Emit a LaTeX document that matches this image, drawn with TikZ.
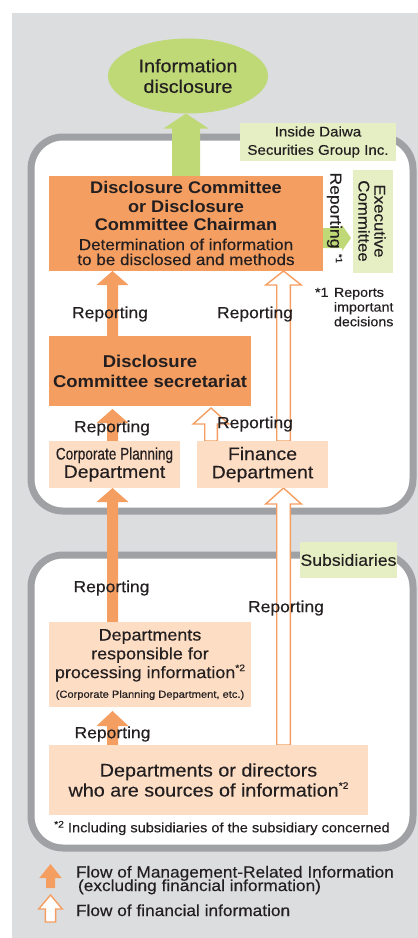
\documentclass[tikz,border=0pt]{standalone}
\usepackage{fontspec}
\setmainfont{Liberation Sans}[FakeStretch=1.08, UprightFeatures={FakeBold=0.3}]
\newfontfamily\narrowfont{Liberation Sans}[FakeStretch=0.81, UprightFeatures={FakeBold=0.3}]
\usetikzlibrary{shapes.geometric,calc}

\definecolor{bggray}{HTML}{DCDDDF}
\definecolor{framegray}{HTML}{A0A1A5}
\definecolor{orangeD}{HTML}{F59E62}
\definecolor{orangeL}{HTML}{FDDDC4}
\definecolor{greenE}{HTML}{BFD977}
\definecolor{greenL}{HTML}{E6EFC4}
\definecolor{ink}{HTML}{231F20}

\newcommand\fsz[2]{\fontsize{#1}{#2}\selectfont}
\newcommand\supnote[1]{\raisebox{0.42em}{\fontsize{9.5}{9.5}\selectfont #1}}

% vertical block arrow pointing up: style, tail point, tip point,
% shaft half width, head half width, head length
\newcommand\uparr[6]{%
  \path[#1] let \p1=(#2), \p2=(#3) in
    (\x2,\y2) -- (\x2+#5pt,\y2-#6pt) -- (\x2+#4pt,\y2-#6pt) -- (\x2+#4pt,\y1)
    -- (\x2-#4pt,\y1) -- (\x2-#4pt,\y2-#6pt) -- (\x2-#5pt,\y2-#6pt) -- cycle;}

\pgfdeclarelayer{back}
\pgfdeclarelayer{flow}
\pgfsetlayers{back,flow,main}

\tikzset{
  every node/.style={text=ink, inner sep=0pt, outer sep=0pt},
  groupframe/.style={draw=framegray, line width=7pt, fill=white, rounded corners=32pt},
  darkbox/.style={fill=orangeD, align=center},
  lightbox/.style={fill=orangeL, align=center},
  greenlabel/.style={fill=greenL, align=center},
  reptext/.style={font=\fsz{16.2}{18}},
  solidarr/.style={fill=orangeD},
  hollowarr/.style={fill=white, draw=orangeD, line width=1.4pt, line join=miter},
  greenarr/.style={fill=greenE},
}

\begin{document}
\begin{tikzpicture}[x=1pt,y=-1pt]
\useasboundingbox (0,0) rectangle (418,938);

% backdrop and the two grouping frames
\begin{pgfonlayer}{back}
  \fill[bggray] (12,13) rectangle (418,938);
  \node[groupframe, minimum width=382, minimum height=374] (grpDaiwa) at (222,324) {};
  \node[groupframe, minimum width=382, minimum height=293] (grpSubs) at (222,701.5) {};
\end{pgfonlayer}

% top: disclosure ellipse
\node[ellipse, fill=greenE, minimum width=160, minimum height=75, align=center,
      font=\fsz{18.3}{20.6}] (disc) at (188,76) {Information\\disclosure};

% group labels
\node[greenlabel, minimum width=156, minimum height=38, font=\fsz{14}{18.3}]
  (lblDaiwa) at (318,142) {Inside Daiwa\\Securities Group Inc.};
\node[greenlabel, minimum width=97, minimum height=36, font=\fsz{16.3}{18}]
  (lblSubs) at (348.5,560) {Subsidiaries};

% committee and executive committee
\node[darkbox, minimum width=274, minimum height=95, font=\fsz{16.8}{18.4}\bfseries]
  (dc) at (186,223.5)
  {Disclosure Committee\\or Disclosure\\Committee Chairman\\[0.9pt]
   {\mdseries\fsz{15.8}{15}Determination of information}\\[-3.4pt]
   {\mdseries\fsz{15.8}{15}to be disclosed and methods}};
\node[greenlabel, minimum width=40, minimum height=103] (exec) at (373,221.5) {};
\node[rotate=-90, align=center, font=\fsz{15.6}{16}] (execText) at (372,221) {Executive\\Committee};

% departments inside the group
\node[darkbox, minimum width=202, minimum height=70, font=\fsz{17.1}{20}\bfseries]
  (secr) at (150,371) {Disclosure\\Committee secretariat};
\node[lightbox, minimum width=131, minimum height=47, font=\fsz{18}{18.3}]
  (cpd) at (114.5,464.5) {{\narrowfont\fsz{16.8}{18.3}Corporate Planning}\\Department};
\node[lightbox, minimum width=131, minimum height=47, font=\fsz{18}{18.3}]
  (fin) at (262.5,464.5) {Finance\\Department};

% subsidiaries
\node[lightbox, minimum width=202, minimum height=85, font=\fsz{16.6}{18.8}]
  (resp) at (150,664.5)
  {Departments\\responsible for\\processing information\supnote{*2}\\[0.9pt]
   {\fsz{10.3}{12}(Corporate Planning Department, etc.)}};
\node[lightbox, minimum width=319, minimum height=70, font=\fsz{18.3}{20}]
  (src) at (208.5,780)
  {Departments or directors\\who are sources of information\supnote{*2}};

% columns of the vertical flows
\coordinate (colA) at (112.5,0);
\coordinate (colB) at (283.5,0);
\coordinate (colC) at (211,0);
\coordinate (colG) at (186,0);
\coordinate (gTip) at ($(exec.west)+(-2,16.5)$);
\coordinate (gTail) at (dc.east |- gTip);
\coordinate (legSolidTail) at (50.5,888);
\coordinate (legSolidTip) at (50.5,864);
\coordinate (legHollowTail) at (50.5,922);
\coordinate (legHollowTip) at (50.5,895);

\begin{pgfonlayer}{flow}
  \uparr{greenarr}{colG |- dc.north}{colG |- disc.south}{14}{22.5}{15}
  \path[greenarr] let \p1=(gTail), \p2=(gTip) in
    (\x2,\y2) -- (\x2-9pt,\y2+13pt) -- (\x2-9pt,\y2+10pt) -- (\x1,\y2+10pt)
    -- (\x1,\y2-10pt) -- (\x2-9pt,\y2-10pt) -- (\x2-9pt,\y2-13pt) -- cycle;
  \uparr{solidarr}{colA |- secr.north}{colA |- dc.south}{5.5}{16}{14}
  \uparr{hollowarr}{colB |- fin.north}{colB |- dc.south}{6.8}{17.8}{14}
  \uparr{solidarr}{colA |- cpd.north}{$(colA |- secr.south)+(0,3)$}{5.5}{16}{14}
  \uparr{hollowarr}{colC |- fin.north}{$(colC |- secr.south)+(0,2)$}{6.3}{17.8}{16}
  \uparr{solidarr}{colA |- resp.north}{colA |- cpd.south}{5.5}{16}{14}
  \uparr{hollowarr}{colB |- src.north}{colB |- fin.south}{6.8}{17.8}{16}
  \uparr{solidarr}{colA |- src.north}{$(colA |- resp.south)+(0,4)$}{5.5}{16}{15}
  \uparr{solidarr}{legSolidTail}{legSolidTip}{4.5}{11.2}{14}
  \uparr{hollowarr}{legHollowTail}{legHollowTip}{5.1}{11.8}{14}
\end{pgfonlayer}

% reporting labels
\node[reptext, rotate=-90] (repExec) at (334.5,210.5) {Reporting};
\node[rotate=-90, font=\fsz{9}{9}] (repExecNote) at (339,258.5) {*1};
\node[reptext] (rep1) at (110,314) {Reporting};
\node[reptext] (rep2) at (255,314) {Reporting};
\node[reptext] (rep3) at (112,428) {Reporting};
\node[reptext] (rep4) at (255,424) {Reporting};
\node[reptext] (rep5) at (111.5,588) {Reporting};
\node[reptext] (rep6) at (286,608) {Reporting};
\node[reptext] (rep7) at (112.5,734) {Reporting};

% notes
\node[anchor=north west, font=\fsz{13.2}{14.7}] (note1mark) at (315,287.8) {*1};
\node[anchor=north west, align=left, font=\fsz{13.2}{14.7}] (note1) at (334,287.8)
  {Reports\\important\\decisions};
\node[font=\fsz{13.5}{15}] (note2) at (222,828)
  {\raisebox{0.35em}{\fsz{9.5}{9.5}*2} Including subsidiaries of the subsidiary concerned};

% legend
\node[anchor=base west, font=\fsz{16}{16}] (legMgmt) at (76,877.5) {Flow of Management-Related Information};
\node[anchor=base west, font=\fsz{16}{16}] (legMgmtSub) at (78,891) {(excluding financial information)};
\node[anchor=base west, font=\fsz{16}{16}] (legFin) at (76,916) {Flow of financial information};
\end{tikzpicture}
\end{document}
